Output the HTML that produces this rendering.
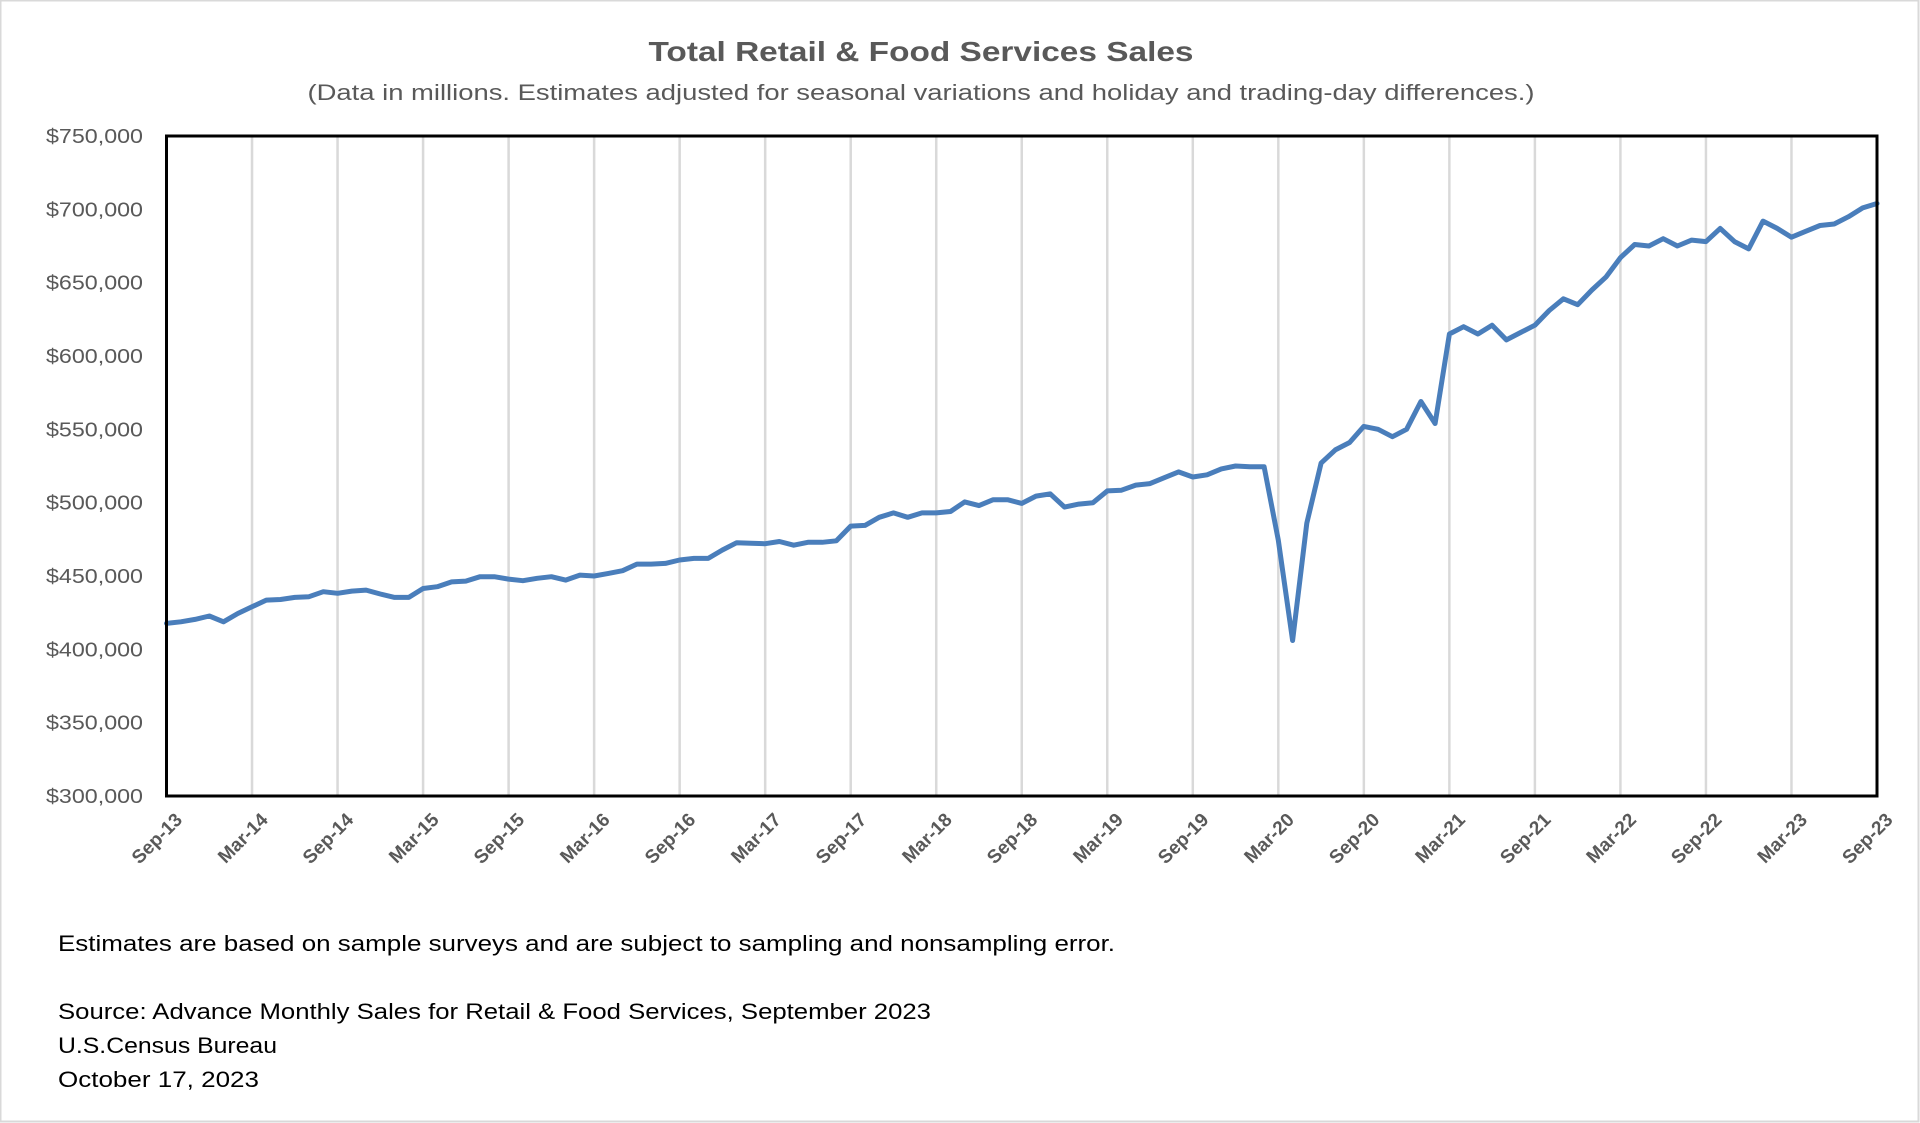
<!DOCTYPE html>
<html><head><meta charset="utf-8"><style>
html,body{margin:0;padding:0;background:#fff;}
svg{display:block;font-family:"Liberation Sans",sans-serif;}
</style></head><body>
<svg id="chart" width="1920" height="1123" viewBox="0 0 1920 1123">
<rect x="0.5" y="0.5" width="1918" height="1121" fill="#fff" stroke="#d9d9d9" stroke-width="2"/>
<text x="921" y="61" text-anchor="middle" font-size="28" font-weight="bold" fill="#595959" textLength="545" lengthAdjust="spacingAndGlyphs">Total Retail &amp; Food Services Sales</text>
<text x="921" y="100" text-anchor="middle" font-size="22" fill="#595959" textLength="1227" lengthAdjust="spacingAndGlyphs">(Data in millions. Estimates adjusted for seasonal variations and holiday and trading-day differences.)</text>
<g id="grid"></g>
<g id="yaxis"></g>
<g id="xaxis"></g>
<path id="line" fill="none" stroke="#4a7ebb" stroke-width="5" stroke-linejoin="round" stroke-linecap="round"/>
<rect x="166.5" y="136" width="1710.5" height="660" fill="none" stroke="#000" stroke-width="3"/>
<text x="58" y="951" font-size="22" fill="#000" textLength="1057" lengthAdjust="spacingAndGlyphs">Estimates are based on sample surveys and are subject to sampling and nonsampling error.</text>
<text x="58" y="1019" font-size="22" fill="#000" textLength="873" lengthAdjust="spacingAndGlyphs">Source: Advance Monthly Sales for Retail &amp; Food Services, September 2023</text>
<text x="58" y="1053" font-size="22" fill="#000" textLength="219" lengthAdjust="spacingAndGlyphs">U.S.Census Bureau</text>
<text x="58" y="1087" font-size="22" fill="#000" textLength="201" lengthAdjust="spacingAndGlyphs">October 17, 2023</text>
</svg>
<script>
const yTicks = [300000,350000,400000,450000,500000,550000,600000,650000,700000,750000];
const xTickLabels = ["Sep-13","Mar-14","Sep-14","Mar-15","Sep-15","Mar-16","Sep-16","Mar-17","Sep-17","Mar-18","Sep-18","Mar-19","Sep-19","Mar-20","Sep-20","Mar-21","Sep-21","Mar-22","Sep-22","Mar-23","Sep-23"];
const startMonth = "Sep-13";
const sales = [
417.7,418.8,420.4,422.7,418.8,424.4,429,433.6,434,435.4,435.9,439.3,
438.2,439.7,440.4,437.7,435.4,435.4,441.5,442.7,446,446.5,449.5,449.5,
447.9,446.8,448.4,449.5,447.2,450.6,450,451.8,453.6,458.1,458.1,458.6,
460.9,462,462,467.7,472.7,472.3,472,473.5,471,473,473,474,
484,484.5,490,493,490,493,493,494,500.5,498,502,502,
499.5,504.5,506,497,499,500,508,508.5,512,513,517,521,
517.5,519,523,525,524.5,524.5,474.5,406,486,527,536,541,
552,550,545,550,569,554,615,620,615,621,611,616,
621,631,639,635,645,654,667,676,675,680,675,679,
678,687,678,673,692,687,681,685,689,690,695,701,704
].map(v=>v*1000);

const L=166.5,R=1877,T=136,B=796,yMin=300000,yMax=750000;
const n=sales.length;
const xs=i=>L+(R-L)*i/(n-1);
const ys=v=>B-(B-T)*(v-yMin)/(yMax-yMin);
const NS="http://www.w3.org/2000/svg";
const grid=document.getElementById('grid'),yax=document.getElementById('yaxis'),xax=document.getElementById('xaxis');
yTicks.forEach(t=>{
  const tx=document.createElementNS(NS,'text');
  
  
  tx.setAttribute('x',143);tx.setAttribute('y',ys(t)+7);
  tx.setAttribute('text-anchor','end');tx.setAttribute('font-size','20');tx.setAttribute('fill','#595959');
  tx.setAttribute('textLength','97');tx.setAttribute('lengthAdjust','spacingAndGlyphs');
  tx.textContent='$'+t.toLocaleString('en-US');
  yax.appendChild(tx);
});
xTickLabels.forEach((lab,k)=>{
  const i=k*6,x=xs(i);
  if(k>0&&k<xTickLabels.length-1){
    const g=document.createElementNS(NS,'line');
    
    
    g.setAttribute('x1',x);g.setAttribute('x2',x);g.setAttribute('y1',T);g.setAttribute('y2',B);
    g.setAttribute('stroke','#d9d9d9');g.setAttribute('stroke-width','2.5');
    grid.appendChild(g);
  }
  const tx=document.createElementNS(NS,'text');
  
  
  const ex=x+7,ey=B+15;
  tx.setAttribute('transform','translate('+ex+','+ey+') rotate(-45)');
  tx.setAttribute('text-anchor','end');tx.setAttribute('dy','14');
  tx.setAttribute('font-size','19');tx.setAttribute('font-weight','bold');tx.setAttribute('fill','#595959');
  tx.textContent=lab;
  xax.appendChild(tx);
});
document.getElementById('line').setAttribute('d',sales.map((v,i)=>(i?'L':'M')+xs(i).toFixed(1)+' '+ys(v).toFixed(1)).join(' '));
</script>
</body></html>
